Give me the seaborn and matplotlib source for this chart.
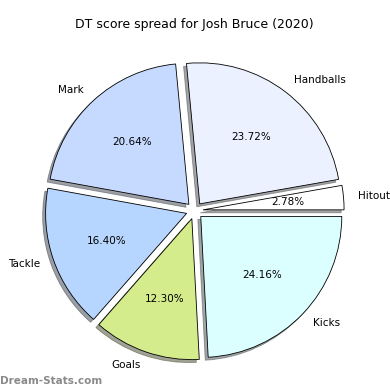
import matplotlib
matplotlib.use("Agg")
import matplotlib.pyplot as plt
import seaborn as sns

# DT score split, counter-clockwise from 0 degrees
labels = ['Hitout', 'Handballs', 'Mark', 'Tackle', 'Goals', 'Kicks']
shares = [2.78, 23.72, 20.64, 16.40, 12.30, 24.16]
colours = ['#ffffff', '#ebf1ff', '#c6d9ff', '#b7d6ff', '#d4ec8c', '#dbffff']

sns.set_style("white")
plt.rcParams['text.color'] = 'black'
palette = sns.color_palette(colours)

fig = plt.figure(figsize=(5.2, 5.2), dpi=75)
ax = fig.add_axes([0.047, 0.008, 0.904, 0.904])

ax.pie(
    shares,
    labels=labels,
    colors=palette,
    explode=[0.06] * len(shares),
    autopct='%1.2f%%',
    shadow=True,
    startangle=0,
    wedgeprops={'edgecolor': 'black', 'linewidth': 0.8},
)
ax.set_title("DT score spread for Josh Bruce (2020)", color='black')

fig.text(0.0, 0.01, "Dream-Stats.com", color='#8a8a8a', fontsize=10,
         fontweight='bold', ha='left', va='bottom')

fig.savefig("out.png", dpi=75)
